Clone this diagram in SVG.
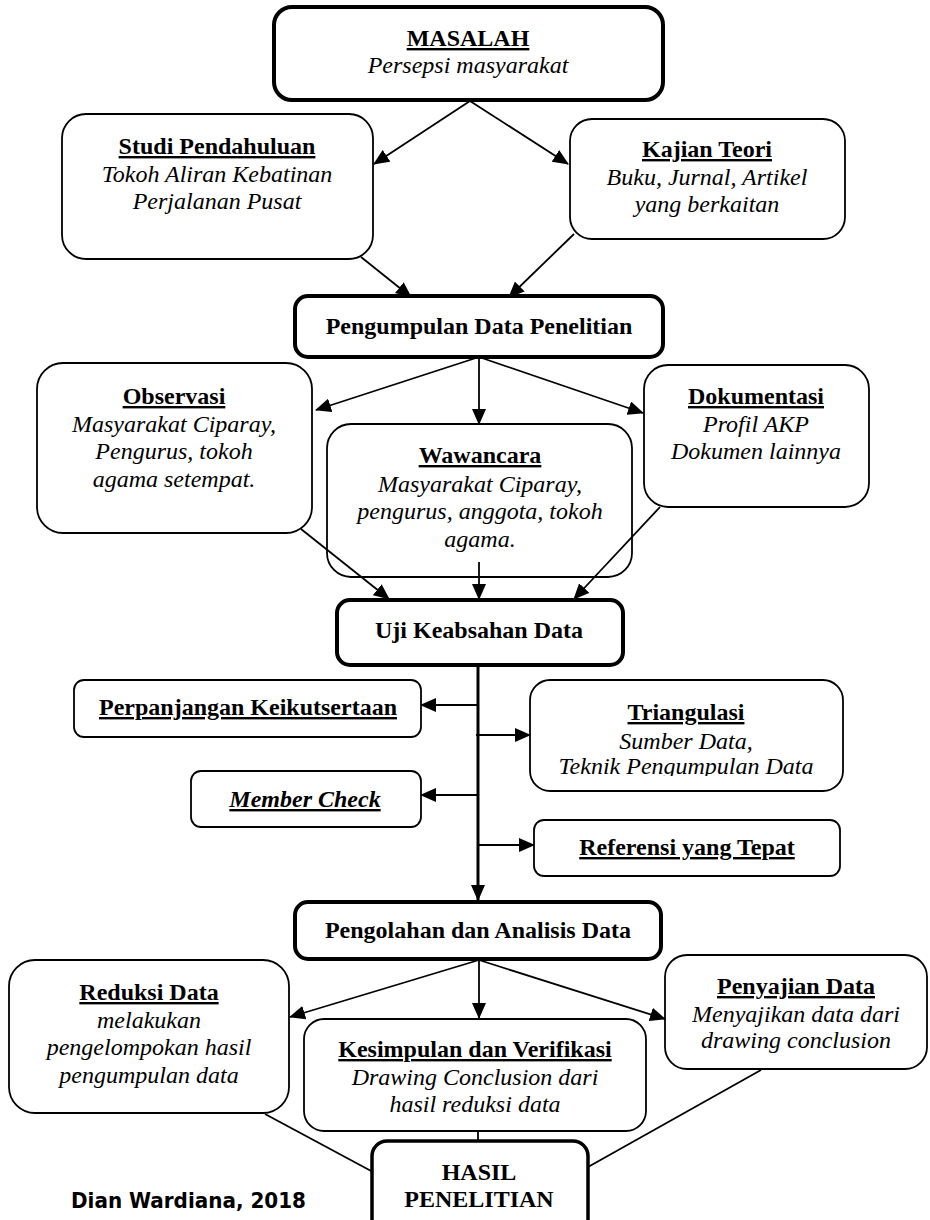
<svg xmlns="http://www.w3.org/2000/svg" width="930" height="1220" viewBox="0 0 930 1220">
<defs>
<style>
.box{fill:#fff;stroke:#000;stroke-width:1.8}
.thick{stroke-width:4}
.t{font-family:'Liberation Serif','Times New Roman',serif;font-size:24px;text-anchor:middle;fill:#000}
.b{font-weight:bold}
.u{text-decoration:underline}
.i{font-style:italic}
.c{stroke:#000;stroke-width:1.8;fill:none}
.a{marker-end:url(#ah)}
</style>
<marker id="ah" viewBox="0 0 16 14" refX="15" refY="7" markerWidth="16" markerHeight="14" markerUnits="userSpaceOnUse" orient="auto">
<path d="M0,0 L16,7 L0,14 z" fill="#000"/>
</marker>
<clipPath id="triclip"><rect x="530" y="680" width="313" height="96"/></clipPath>
</defs>
<rect width="930" height="1220" fill="#fff"/>

<g id="masalah">
<rect class="box thick" x="274" y="7" width="389" height="93" rx="18"/>
<text class="t b u" x="468" y="46">MASALAH</text>
<text class="t i" x="468" y="73">Persepsi masyarakat</text>
</g>
<g id="studi">
<rect class="box" x="62" y="114" width="311" height="145" rx="24"/>
<text class="t b u" x="217" y="154">Studi Pendahuluan</text>
<text class="t i" x="217" y="182">Tokoh Aliran Kebatinan</text>
<text class="t i" x="217" y="209">Perjalanan Pusat</text>
</g>
<g id="kajian">
<rect class="box" x="570" y="119" width="275" height="120" rx="22"/>
<text class="t b u" x="707" y="157">Kajian Teori</text>
<text class="t i" x="707" y="185">Buku, Jurnal, Artikel</text>
<text class="t i" x="707" y="212">yang berkaitan</text>
</g>
<g id="pengumpulan">
<rect class="box thick" x="295" y="296" width="368" height="61" rx="13"/>
<text class="t b" x="479" y="334">Pengumpulan Data Penelitian</text>
</g>
<g id="observasi">
<rect class="box" x="37" y="363" width="275" height="170" rx="26"/>
<text class="t b u" x="174" y="404">Observasi</text>
<text class="t i" x="174" y="432">Masyarakat Ciparay,</text>
<text class="t i" x="174" y="459">Pengurus, tokoh</text>
<text class="t i" x="174" y="487">agama setempat.</text>
</g>
<g id="wawancara">
<rect class="box" x="327" y="424" width="305" height="153" rx="24"/>
<text class="t b u" x="480" y="463">Wawancara</text>
<text class="t i" x="480" y="492">Masyarakat Ciparay,</text>
<text class="t i" x="480" y="519">pengurus, anggota, tokoh</text>
<text class="t i" x="480" y="547">agama.</text>
</g>
<g id="dokumentasi">
<rect class="box" x="644" y="365" width="225" height="142" rx="24"/>
<text class="t b u" x="756" y="404">Dokumentasi</text>
<text class="t i" x="756" y="432">Profil AKP</text>
<text class="t i" x="756" y="459">Dokumen lainnya</text>
</g>
<g id="uji">
<rect class="box thick" x="337" y="600" width="286" height="65" rx="13"/>
<text class="t b" x="479" y="638">Uji Keabsahan Data</text>
</g>
<g id="perpanjangan">
<rect class="box" x="74" y="680" width="347" height="57" rx="10"/>
<text class="t b u" x="248" y="715">Perpanjangan Keikutsertaan</text>
</g>
<g id="triangulasi">
<rect class="box" x="530" y="680" width="313" height="111" rx="20"/>
<text class="t b u" x="686" y="720">Triangulasi</text>
<text class="t i" x="686" y="749">Sumber Data,</text>
<text class="t i" x="686" y="774" clip-path="url(#triclip)">Teknik Pengumpulan Data</text>
</g>
<g id="member-check">
<rect class="box" x="191" y="771" width="230" height="56" rx="10"/>
<text class="t b i u" x="305" y="807">Member Check</text>
</g>
<g id="referensi">
<rect class="box" x="534" y="820" width="306" height="56" rx="10"/>
<text class="t b u" x="687" y="855">Referensi yang Tepat</text>
</g>
<g id="pengolahan">
<rect class="box thick" x="295" y="902" width="366" height="57" rx="13"/>
<text class="t b" x="478" y="938">Pengolahan dan Analisis Data</text>
</g>
<g id="reduksi">
<rect class="box" x="9" y="960" width="280" height="153" rx="26"/>
<text class="t b u" x="149" y="1000">Reduksi Data</text>
<text class="t i" x="149" y="1028">melakukan</text>
<text class="t i" x="149" y="1055">pengelompokan hasil</text>
<text class="t i" x="149" y="1083">pengumpulan data</text>
</g>
<g id="kesimpulan">
<rect class="box" x="304" y="1019" width="342" height="112" rx="20"/>
<text class="t b u" x="475" y="1057">Kesimpulan dan Verifikasi</text>
<text class="t i" x="475" y="1085">Drawing Conclusion dari</text>
<text class="t i" x="475" y="1112">hasil reduksi data</text>
</g>
<g id="penyajian">
<rect class="box" x="665" y="955" width="262" height="114" rx="22"/>
<text class="t b u" x="796" y="994">Penyajian Data</text>
<text class="t i" x="796" y="1022">Menyajikan data dari</text>
<text class="t i" x="796" y="1048">drawing conclusion</text>
</g>
<g id="hasil">
<rect class="box" style="stroke-width:3.5" x="372" y="1141" width="216" height="100" rx="15"/>
<text class="t b" x="479" y="1180">HASIL</text>
<text class="t b" x="479" y="1207">PENELITIAN</text>
</g>
<g id="credit">
<text x="71" y="1208" font-family="'DejaVu Sans Condensed','DejaVu Sans',sans-serif" font-weight="bold" font-size="21.5" textLength="235" lengthAdjust="spacingAndGlyphs" fill="#000">Dian Wardiana, 2018</text>
</g>

<g id="connectors">
<path class="c a" d="M470,101 L374,164"/>
<path class="c a" d="M470,101 L568,164"/>
<path class="c a" d="M361,257 L411,297"/>
<path class="c a" d="M574,234 L509,297"/>
<path class="c a" d="M479,357 L316,410"/>
<path class="c a" d="M479,357 L479,424"/>
<path class="c a" d="M479,357 L643,413"/>
<path class="c a" d="M301,529 L389,599"/>
<path class="c a" d="M479,562 L479,599"/>
<path class="c a" d="M660,507 L574,599"/>
<path class="c a" style="stroke-width:3" d="M478,665 L478,900"/>
<path class="c a" d="M478,705 L421,705"/>
<path class="c a" d="M476,735 L530,735"/>
<path class="c a" d="M478,795 L421,795"/>
<path class="c a" d="M478,845 L534,845"/>
<path class="c a" d="M479,960 L290,1017"/>
<path class="c a" d="M479,960 L479,1018"/>
<path class="c a" d="M479,960 L665,1019"/>
<path class="c" d="M265,1114 L373,1172"/>
<path class="c" d="M478,1131 L478,1141"/>
<path class="c" d="M761,1070 L588,1167"/>
</g>
</svg>
